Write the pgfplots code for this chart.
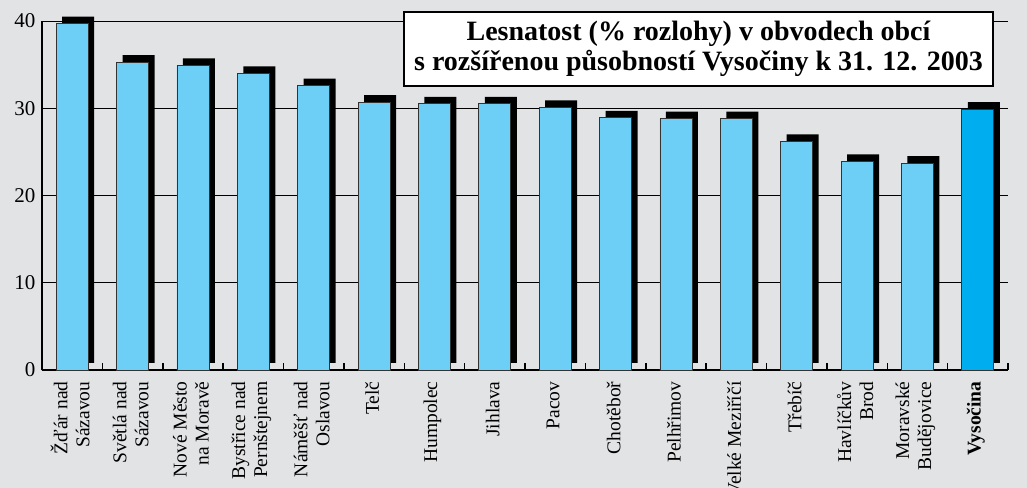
\documentclass[border=0pt]{standalone}
\usepackage{pgfplots}
\pgfplotsset{compat=1.18}
\usepackage{fontspec}
\setmainfont{Liberation Serif}
\definecolor{bg}{HTML}{E2E3E5}
\definecolor{lb}{HTML}{6DCFF6}
\definecolor{db}{HTML}{00AEEF}
\definecolor{edge}{HTML}{333333}
\begin{document}
\begin{tikzpicture}
\fill[bg] (0,0) rectangle (1027bp,488bp);
\begin{axis}[
  at={(42bp,118bp)}, anchor=south west,
  scale only axis, width=966bp, height=349bp,
  xmin=-0.5, xmax=15.5, ymin=0, ymax=40,
  clip=false,
  axis x line*=bottom, axis y line*=left,
  axis line style={line width=2bp,-},
  ytick={0,10,20,30,40},
  ymajorgrids, grid style={black, line width=0.8bp},
  ytick style={draw=none},
  /pgf/number format/assume math mode=true,
  yticklabel style={font=\fontsize{21bp}{24bp}\selectfont, xshift=-3bp},
  xtick={0.5,1.5,...,15.5},
  xticklabels={},
  xtick style={draw=black, line width=1.5bp},
  tick align=inside, major tick length=7bp,
  extra x ticks={0,1,...,15},
  extra x tick style={major tick length=0pt, grid=none},
  extra x tick labels={{Žďár nad\\Sázavou},{Světlá nad\\Sázavou},{Nové Město\\na Moravě},{Bystřice nad\\Pernštejnem},{Náměšť nad\\Oslavou},{Telč},{Humpolec},{Jihlava},{Pacov},{Chotěboř},{Pelhřimov},{Velké Meziříčí},{Třebíč},{Havlíčkův\\Brod},{Moravské\\Budějovice},{\textbf{Vysočina}}},
  xticklabel style={rotate=90, anchor=east, align=right, font=\fontsize{19.5bp}{22bp}\selectfont, xshift=-8bp, yshift=2bp},
]
\addplot[ybar, bar width=32bp, bar shift=6bp, fill=black, draw=none, yshift=7bp] coordinates {
(0,39.7) (1,35.3) (2,34.9) (3,34.0) (4,32.6) (5,30.7) (6,30.5) (7,30.5) (8,30.1) (9,28.9) (10,28.8) (11,28.8) (12,26.2) (13,23.9) (14,23.7) (15,29.9)};
\addplot[ybar, bar width=32bp, bar shift=0pt, fill=lb, draw=edge, line width=0.8bp] coordinates {
(0,39.7) (1,35.3) (2,34.9) (3,34.0) (4,32.6) (5,30.7) (6,30.5) (7,30.5) (8,30.1) (9,28.9) (10,28.8) (11,28.8) (12,26.2) (13,23.9) (14,23.7)};
\addplot[ybar, bar width=32bp, bar shift=0pt, fill=db, draw=edge, line width=0.8bp] coordinates {(15,29.9)};
\end{axis}
\node[draw=black, fill=white, line width=1.8bp, minimum width=589bp, minimum height=74bp, align=center, inner sep=0pt,
  font=\fontsize{28bp}{30bp}\selectfont\bfseries] at (698.5bp,439bp)
  {Lesnatost (\% rozlohy) v obvodech obcí\\s rozšířenou působností Vysočiny k 31. 12. 2003};
\pgfresetboundingbox
\path (0,0) rectangle (1027bp,488bp);
\end{tikzpicture}
\end{document}
